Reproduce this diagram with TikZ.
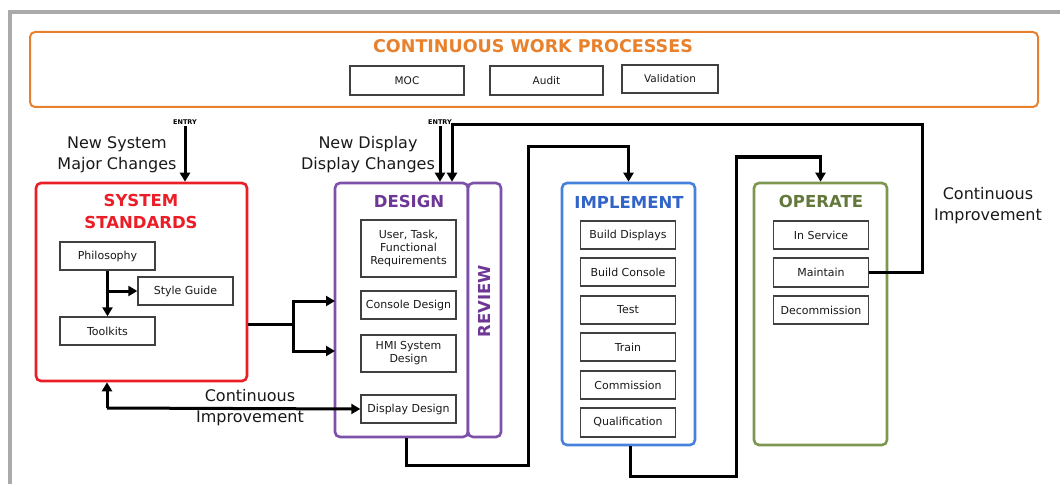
\documentclass[tikz,border=0pt]{standalone}
\usepackage{fontspec}
\setmainfont{DejaVu Sans}
\usetikzlibrary{arrows.meta,calc}
\definecolor{cwporange}{RGB}{232,128,44}
\definecolor{sysred}{RGB}{235,30,40}
\definecolor{despurple}{RGB}{125,80,170}
\definecolor{destext}{RGB}{110,55,150}
\definecolor{impblue}{RGB}{70,130,220}
\definecolor{imptext}{RGB}{50,100,200}
\definecolor{opgreen}{RGB}{125,150,80}
\definecolor{optext}{RGB}{100,120,60}
\definecolor{framegrey}{RGB}{170,170,170}
\definecolor{txt}{RGB}{25,25,25}
\tikzset{
  module/.style={draw=#1, line width=2.6pt, rounded corners=5pt, fill=white, inner sep=0pt},
  title/.style={text=#1, font=\fontsize{16.5}{19}\selectfont\bfseries, inner sep=0pt},
  item/.style={draw=black!75, line width=1.4pt, fill=white, inner sep=1pt, text=txt,
    font=\fontsize{11}{13}\selectfont, align=center, minimum width=95pt},
  topitem/.style={item, font=\fontsize{10.5}{12}\selectfont},
  lbl/.style={text=txt, font=\fontsize{16}{21}\selectfont, align=center, inner sep=0pt},
  entrylbl/.style={font=\fontsize{6.5}{7}\selectfont\bfseries, inner sep=0pt},
  wire/.style={line width=3pt, draw=black},
  conn/.style={wire, -{Triangle[length=9pt,width=10pt]}},
}
\begin{document}
\begin{tikzpicture}[x=1pt,y=-1pt]
\useasboundingbox (0,0) rectangle (1060,484);
\fill[framegrey] (8,10) rectangle (1060,14);
\fill[framegrey] (8,10) rectangle (12,484);

% continuous work processes
\node[module=cwporange, line width=2pt, minimum width=1008pt, minimum height=75pt] (cwp) at (534,69.5) {};
\node[title=cwporange, font=\fontsize{17.5}{20}\selectfont\bfseries] (cwpt) at (533,46) {CONTINUOUS WORK PROCESSES};
\node[topitem, minimum width=114pt, minimum height=29pt] (moc) at (407,80.5) {MOC};
\node[topitem, minimum width=113pt, minimum height=29pt] (audit) at (546.5,80.5) {Audit};
\node[topitem, minimum width=96pt, minimum height=28pt] (valid) at (670,79) {Validation};

% system standards
\node[module=sysred, minimum width=211pt, minimum height=198pt] (sys) at (141.5,282) {};
\node[title=sysred, align=center, font=\fontsize{16.5}{22}\selectfont\bfseries] (syst) at (141,211) {SYSTEM\\STANDARDS};
\node[item, minimum height=28pt] (philo) at (107.5,256) {Philosophy};
\node[item, minimum height=28pt] (style) at (185.5,291) {Style Guide};
\node[item, minimum height=28pt] (tool) at (107.5,331) {Toolkits};

% design + review
\node[module=despurple, minimum width=133pt, minimum height=254pt] (design) at (401.5,310) {};
\node[module=despurple, minimum width=33pt, minimum height=254pt] (review) at (484.5,310) {};
\node[title=destext] (dest) at (409,201) {DESIGN};
\node[title=destext, rotate=90] (revt) at (484,301) {REVIEW};
\node[item, minimum height=57pt] (utf) at (408.5,248.5) {User, Task,\\Functional\\Requirements};
\node[item, minimum height=28pt] (cons) at (408.5,305) {Console Design};
\node[item, minimum height=37pt] (hmi) at (408.5,353.5) {HMI System\\Design};
\node[item, minimum height=28pt] (dispd) at (408.5,409) {Display Design};

% implement
\node[module=impblue, minimum width=133pt, minimum height=262pt] (impl) at (628.5,314) {};
\node[title=imptext] (implt) at (629,202) {IMPLEMENT};
\node[item, minimum height=28pt] (bdisp) at (628,235) {Build Displays};
\node[item, minimum height=28pt] (bcons) at (628,272) {Build Console};
\node[item, minimum height=28pt] (test) at (628,310) {Test};
\node[item, minimum height=28pt] (train) at (628,347) {Train};
\node[item, minimum height=28pt] (comm) at (628,385) {Commission};
\node[item, minimum height=29pt] (qual) at (628,422.5) {Qualification};

% operate
\node[module=opgreen, minimum width=133pt, minimum height=262pt] (oper) at (820.5,314) {};
\node[title=optext] (opert) at (821,201) {OPERATE};
\node[item, minimum height=28pt] (insv) at (821,235) {In Service};
\node[item, minimum height=29pt] (maint) at (821,272.5) {Maintain};
\node[item, minimum height=28pt] (decom) at (821,310) {Decommission};

% labels
\node[lbl] (nsys) at (117,154.5) {New System\\Major Changes};
\node[lbl] (ndisp) at (368,154.5) {New Display\\Display Changes};
\node[lbl] (cil) at (250,407.5) {Continuous\\Improvement};
\node[lbl] (cir) at (988,206) {Continuous\\Improvement};
\node[entrylbl] (en1) at (185,122) {ENTRY};
\node[entrylbl] (en2) at (440,122) {ENTRY};

% connectors
\coordinate (e1) at (185,126);
\draw[conn] (e1) -- (sys.north -| e1);
\draw[conn] (philo.south) -- (tool.north);
\draw[conn] (philo.south |- style.west) -- (style.west);
\coordinate (br) at (293,324);
\coordinate (d1) at (335,301);
\coordinate (d2) at (335,351);
\draw[wire] (sys.east |- br) -- (br);
\draw[conn] (br) |- (d1);
\draw[conn] (br) |- (d2);
\coordinate (ci) at (107,408);
\draw[conn] (ci) -- (sys.south -| ci);
\draw[conn] (ci) -- (dispd.west);
\coordinate (e2) at (440,126);
\draw[conn] (e2) -- (design.north -| e2);
\coordinate (fb1) at (922,125);
\coordinate (fb2) at (452,125);
\draw[conn] (maint.east) -| (fb1) -- (fb2) -- (design.north -| fb2);
\coordinate (j1) at (406,465);
\coordinate (j2) at (528,147);
\draw[conn] (design.south -| j1) |- (j2 |- j1) -- (j2) -| (impl.north);
\coordinate (k1) at (630,476);
\coordinate (k2) at (736,157);
\draw[conn] (impl.south -| k1) |- (k2 |- k1) -- (k2) -| (oper.north);
\end{tikzpicture}
\end{document}
